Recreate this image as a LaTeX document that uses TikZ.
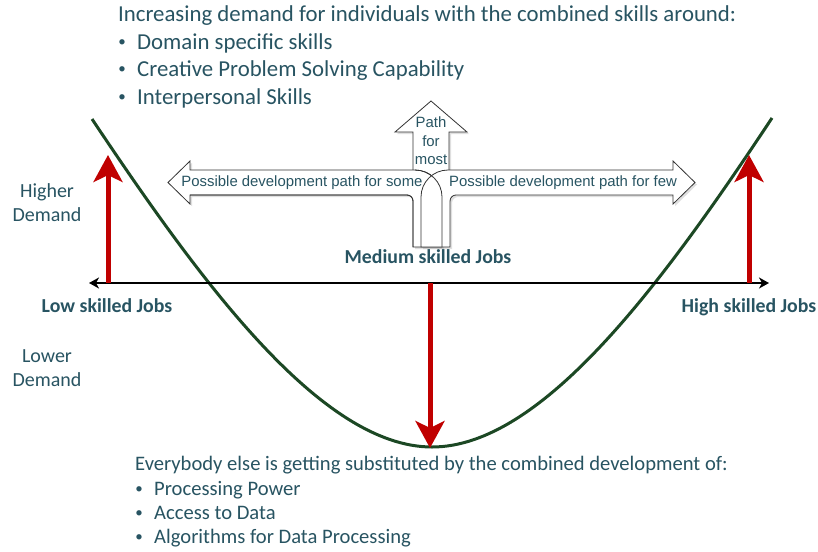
\documentclass[tikz,border=0pt]{standalone}
\usepackage{fontspec}
\setmainfont{Carlito}
\newfontfamily\arialf{Liberation Sans}
\usetikzlibrary{arrows.meta,shadows}
\definecolor{txt}{RGB}{40,84,98}
\definecolor{curvegreen}{RGB}{28,72,36}
\definecolor{redarr}{RGB}{192,0,0}
\tikzset{
  lbl/.style={inner sep=0pt, text=txt, text height=0.75em, text depth=0.25em},
  title/.style={lbl, anchor=west, font=\fontsize{22.8}{26}\selectfont},
  lower/.style={lbl, anchor=west, font=\fontsize{20.6}{24}\selectfont},
  bul/.style={inner sep=0pt, text=txt, font=\fontsize{15}{18}\selectfont},
  side/.style={inner sep=0pt, text=txt, align=center, font=\fontsize{20}{24}\selectfont},
  jobs/.style={lbl, font=\fontsize{19.8}{22}\selectfont\bfseries},
  arrtext/.style={inner sep=0pt, text=txt, font=\arialf\fontsize{14.9}{18.5}\selectfont},
  redarrow/.style={draw=redarr, line width=5pt, -{Stealth[length=27pt,width=29pt,inset=7pt]}},
  axisline/.style={draw=black, line width=2.6pt, {Stealth[length=10pt,width=11pt,inset=3pt]}-{Stealth[length=10pt,width=11pt,inset=3pt]}},
  ucurve/.style={draw=curvegreen, line width=3pt},
  block/.style={fill=white, draw=black!80, line width=0.8pt, line join=miter},
  blockshadow/.style={drop shadow={opacity=0.25, shadow xshift=2pt, shadow yshift=-2pt}},
}
\begin{document}
\begin{tikzpicture}[x=1pt,y=-1pt]
\useasboundingbox (0,0) rectangle (818,551);
\fill[white] (0,0) rectangle (818,551);

% top text
\node[title] (t0) at (118,19) {Increasing demand for individuals with the combined skills around:};
\node[bul] (b1) at (122,43.5) {•};
\node[title] (t1) at (137,47) {Domain specific skills};
\node[bul] (b2) at (122,70.5) {•};
\node[title] (t2) at (137,74) {Creative Problem Solving Capability};
\node[bul] (b3) at (122,98.5) {•};
\node[title] (t3) at (137,102) {Interpersonal Skills};

% U curve
\coordinate (cl) at (92,119);
\coordinate (cb) at (432,447);
\coordinate (cr) at (772,118);
\draw[ucurve] (cl) .. controls (202,284) and (322,447) .. (cb)
              .. controls (542,447) and (662,284) .. (cr);

% axis
\coordinate (axL) at (89,283);
\coordinate (axR) at (769,283);
\draw[axisline] (axL) -- (axR);

% red arrows
\coordinate (lowbase) at (108,283);
\coordinate (lowtip) at (108,155);
\coordinate (highbase) at (749,283);
\coordinate (hightip) at (749,155);
\coordinate (midbase) at (430,283);
\coordinate (midtip) at (430,448);
\draw[redarrow] (lowbase) -- (lowtip);
\draw[redarrow] (highbase) -- (hightip);
\draw[redarrow] (midbase) -- (midtip);

% block arrows
\path[block, blockshadow] (413,200) -- (413,132) -- (395,132) -- (431,101) -- (467,132) -- (449,132) -- (449,200) -- cycle;
\path[block, blockshadow] (413,247) -- (413,201) .. controls (413,197.7) and (410.3,195) .. (407,195)
   -- (190,195) -- (190,204) -- (168,182.5) -- (190,161) -- (190,170) -- (415,170)
   .. controls (429.9,170) and (442,182.1) .. (442,197) -- (442,247) -- cycle;
\path[block, blockshadow] (450,247) -- (450,201) .. controls (450,197.7) and (452.7,195) .. (456,195)
   -- (673,195) -- (673,204) -- (695,182.5) -- (673,161) -- (673,170) -- (448,170)
   .. controls (433.1,170) and (421,182.1) .. (421,197) -- (421,247) -- cycle;
\draw[block, fill=none] (413,247) -- (413,201) .. controls (413,197.7) and (410.3,195) .. (407,195)
   -- (190,195) (415,170) .. controls (429.9,170) and (442,182.1) .. (442,197) -- (442,247);

\node[arrtext, align=center] (pathmost) at (431,141) {Path\\for\\most};
\node[arrtext] (pathsome) at (302,183) {Possible development path for some};
\node[arrtext] (pathfew) at (563,183) {Possible development path for few};

% side labels
\node[side] (higher) at (47,203) {Higher\\Demand};
\node[side] (lowerd) at (47,368) {Lower\\Demand};
\node[jobs] (lowjobs) at (107,310) {Low skilled Jobs};
\node[jobs] (highjobs) at (749,310) {High skilled Jobs};
\node[jobs] (medjobs) at (428,261) {Medium skilled Jobs};

% bottom text
\node[lower] (e0) at (135,468) {Everybody else is getting substituted by the combined development of:};
\node[bul] (eb1) at (139,490) {•};
\node[lower] (e1) at (154,493) {Processing Power};
\node[bul] (eb2) at (139,514) {•};
\node[lower] (e2) at (154,517) {Access to Data};
\node[bul] (eb3) at (139,538) {•};
\node[lower] (e3) at (154,541) {Algorithms for Data Processing};
\end{tikzpicture}
\end{document}
